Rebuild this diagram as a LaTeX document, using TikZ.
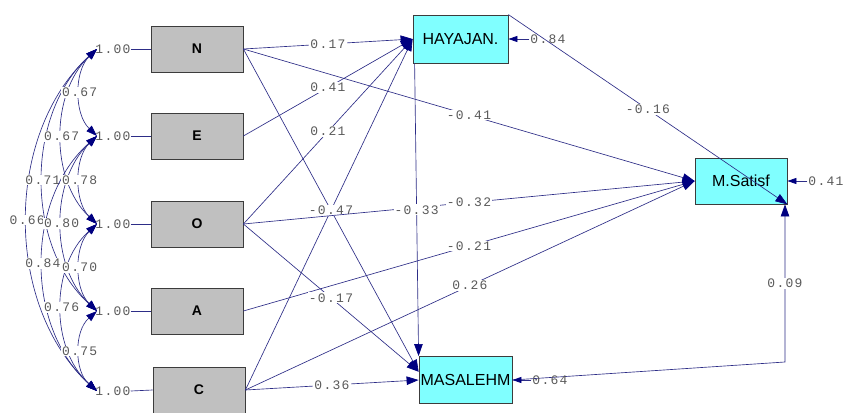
\documentclass[tikz,border=0pt]{standalone}
\usepackage{fontspec}
\setmainfont{Liberation Sans}
\newfontfamily\numfont[LetterSpace=10]{Liberation Mono}
\usetikzlibrary{arrows.meta,calc}
\definecolor{ln}{RGB}{45,45,135}
\definecolor{ah}{RGB}{0,0,128}
\definecolor{numc}{RGB}{90,90,90}
\definecolor{exo}{RGB}{192,192,192}
\definecolor{endo}{RGB}{128,255,255}
\definecolor{bd}{RGB}{60,60,60}
\begin{document}
\begin{tikzpicture}[x=1pt,y=-1pt,
  exobox/.style={draw=bd,fill=exo,minimum width=92pt,minimum height=46pt,inner sep=0pt,line width=0.8pt,font=\fontsize{14}{16}\selectfont\bfseries},
  endobox/.style={draw=bd,fill=endo,minimum width=95pt,minimum height=48pt,inner sep=0pt,line width=0.8pt,font=\fontsize{16}{18}\selectfont},
  num/.style={font=\numfont\fontsize{13}{15}\selectfont,text=numc,fill=white,inner sep=1pt},
  numt/.style={font=\numfont\fontsize{13}{15}\selectfont,text=numc,inner sep=0pt},
  pth/.style={draw=ln,line width=0.65pt,-{Triangle[length=12pt,width=8.5pt,color=ah]}},
  err/.style={draw=ln,line width=0.8pt,-{Triangle[length=9pt,width=6pt,color=ah]}},
  conn/.style={draw=ln,line width=0.65pt},
  cov/.style={draw=ln,line width=0.65pt,{Triangle[length=11pt,width=7.5pt,color=ah]}-{Triangle[length=11pt,width=7.5pt,color=ah]}},
]
\useasboundingbox[fill=white] (0,0) rectangle (845,412);

% variance labels and covariance points
\node[numt] (vN) at (113,49) {1.00};
\node[numt] (vE) at (113,136) {1.00};
\node[numt] (vO) at (113,224) {1.00};
\node[numt] (vA) at (113,311) {1.00};
\node[numt] (vC) at (113,391) {1.00};
\coordinate (pN) at (97,49);
\coordinate (pE) at (97,136);
\coordinate (pO) at (97,224);
\coordinate (pA) at (97,311);
\coordinate (pC) at (97,391);

% boxes
\node[exobox] (N) at (197,49) {N};
\node[exobox] (E) at (197,136) {E};
\node[exobox] (O) at (197,224) {O};
\node[exobox] (A) at (197,311) {A};
\node[exobox] (C) at (199,390) {C};

\draw[conn] (vN.east) -- (N.west);
\draw[conn] (vE.east) -- (E.west);
\draw[conn] (vO.east) -- (O.west);
\draw[conn] (vA.east) -- (A.west);
\draw[conn] (vC.east) -- (C.west);

% covariances
\draw[cov] (pN) .. controls +(-93,85) and +(-93,-85) .. node[num]{0.66} (pC);
\draw[cov] (pN) .. controls +(-72,65) and +(-72,-65) .. node[num]{0.71} (pA);
\draw[cov] (pE) .. controls +(-72,64) and +(-72,-64) .. node[num]{0.84} (pC);
\draw[cov] (pN) .. controls +(-47,44) and +(-47,-44) .. node[num]{0.67} (pO);
\draw[cov] (pE) .. controls +(-47,44) and +(-47,-44) .. node[num]{0.80} (pA);
\draw[cov] (pO) .. controls +(-47,42) and +(-47,-42) .. node[num]{0.76} (pC);
\draw[cov] (pN) .. controls +(-23,22) and +(-23,-22) .. node[num]{0.67} (pE);
\draw[cov] (pE) .. controls +(-23,22) and +(-23,-22) .. node[num]{0.78} (pO);
\draw[cov] (pO) .. controls +(-23,22) and +(-23,-22) .. node[num]{0.70} (pA);
\draw[cov] (pA) .. controls +(-23,20) and +(-23,-20) .. node[num]{0.75} (pC);

% endogenous boxes
\node[endobox] (HAY) at (460.5,39) {HAYAJAN.};
\node[endobox,minimum width=93pt,minimum height=47pt] (MAS) at (465.5,380) {MASALEHM};
\node[endobox,minimum width=92pt,minimum height=46pt] (MS) at (741,181) {M.Satisf};

% structural paths
\draw[pth] (C.east) -- (HAY.west);
\draw[pth] (N.east) -- node[num]{-0.47} (MAS.170);
\draw[pth] (N.east) -- node[num]{0.17} (HAY.west);
\draw[pth] (E.east) -- node[num]{0.41} (HAY.west);
\draw[pth] (O.east) -- node[num]{0.21} (HAY.west);
\draw[pth] (N.east) -- node[num]{-0.41} (MS.west);
\draw[pth] (O.east) -- node[num]{-0.32} (MS.west);
\draw[pth] (A.east) -- node[num]{-0.21} (MS.west);
\draw[pth] (C.east) -- node[num]{0.26} (MS.west);
\draw[pth] (O.east) -- node[num]{-0.17} (MAS.170);
\draw[pth] (C.east) -- node[num]{0.36} (MAS.west);
\draw[pth] (HAY.208) -- node[num]{-0.33} (MAS.north west);
\draw[pth] (HAY.north east) -- node[num]{-0.16} (MS.south east);
\coordinate (k) at (785,362);
\draw[pth] (MAS.east) -- (k) -- node[num]{0.09} (k |- MS.south);

% error terms
\node[numt] (eH) at (548,39) {0.84};
\node[numt] (eM) at (826,181) {0.41};
\node[numt] (eA) at (550,380) {0.64};
\draw[err] ([xshift=-1pt]eH.west) -- (HAY.east);
\draw[err] ([xshift=-1pt]eM.west) -- (MS.east);
\draw[err] ([xshift=-1pt]eA.west) -- (MAS.east);
\end{tikzpicture}
\end{document}
